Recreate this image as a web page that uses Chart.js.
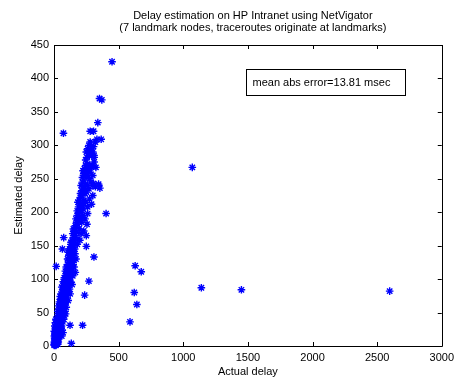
<!DOCTYPE html>
<html>
<head>
<meta charset="utf-8">
<script src="https://cdn.jsdelivr.net/npm/chart.js@4/dist/chart.umd.min.js"></script>
<style>
html,body{margin:0;padding:0;background:#fff;}
canvas{display:block;}
</style>
</head>
<body>
<canvas id="c" width="459" height="377"></canvas>
<script>
// ---- data ----
const titleLines = ["Delay estimation on HP Intranet using NetVigator", "(7 landmark nodes, traceroutes originate at landmarks)"];
const xLabel = "Actual delay";
const yLabel = "Estimated delay";
const annotationText = "mean abs error=13.81 msec";
const xTicks = [0, 500, 1000, 1500, 2000, 2500, 3000];
const yTicks = [0, 50, 100, 150, 200, 250, 300, 350, 400, 450];

// main diagonal band (actual, estimated)
const bandPoints = [
  [2,1],[5,3],[8,2],[3,6],[10,5],[12,8],[15,4],[6,9],[18,2],[20,7],[25,5],[30,3],[22,10],[1,2],[14,1],
  [4,4],[9,11],[16,12],[27,9],[33,6],[7,17],[2,22],[24,16],[36,11],
  [5,12],[10,15],[15,18],[8,20],[20,14],[25,22],[30,18],[35,25],[18,26],[12,28],[40,20],[45,28],[28,12],[50,30],[60,15],[70,20],[3,15],[38,14],
  [14,24],[22,30],[32,28],[48,22],[55,26],[62,24],[42,33],[26,36],[6,30],
  [20,32],[30,35],[40,38],[25,42],[35,45],[45,40],[50,48],[55,35],[60,42],[65,45],[15,40],[70,50],[80,45],[90,48],[10,35],[42,50],[58,30],
  [32,48],[48,44],[75,40],[68,36],[52,54],[38,42],[85,52],[62,50],
  [30,52],[40,55],[50,58],[60,60],[45,62],[55,65],[65,68],[70,72],[75,62],[80,70],[85,75],[90,65],[35,60],[100,72],[110,68],[60,75],[50,70],[95,58],[42,66],[72,55],
  [48,74],[58,68],[68,64],[78,58],[88,70],[64,56],[82,64],[96,78],
  [55,78],[65,80],[75,85],[85,82],[95,88],[70,90],[80,95],[90,92],[100,98],[110,90],[120,85],[130,95],[60,88],[105,80],[115,100],[140,92],[88,100],[125,78],
  [72,96],[92,84],[102,92],[112,82],[124,96],[68,84],[82,88],
  [80,102],[90,105],[100,110],[110,108],[120,115],[95,118],[105,122],[115,125],[125,112],[135,120],[145,105],[155,118],[130,127],[140,125],[100,102],[165,110],[118,104],
  [88,112],[108,116],[128,106],[138,112],[112,128],[148,122],[96,108],
  [105,130],[115,135],[125,132],[135,140],[120,145],[130,148],[140,138],[150,135],[160,145],[145,150],[110,140],[170,130],[155,128],[128,138],
  [118,142],[138,132],[148,144],[132,155],[162,138],
  [130,152],[140,158],[150,162],[160,155],[145,168],[155,172],[165,165],[175,170],[185,160],[170,178],[195,175],[210,168],[230,172],[250,165],[150,175],[180,152],[200,158],
  [165,180],[175,185],[185,182],[195,190],[205,188],[180,195],[190,198],[200,192],[215,185],[225,195],[240,190],[255,182],[170,190],[210,200],[260,198],
  [180,202],[190,208],[200,205],[210,212],[220,210],[195,218],[205,222],[215,225],[230,218],[245,215],[260,208],[275,220],[290,212],[300,225],[225,205],[185,215],
  [205,228],[215,232],[225,238],[235,235],[245,242],[220,245],[230,248],[250,230],[260,240],[270,235],[285,245],[300,240],[320,238],[345,242],[355,236],[240,228],[210,240],[275,250],
  [220,252],[230,258],[240,255],[250,262],[260,258],[235,265],[245,270],[255,272],[270,265],[280,260],[290,268],[300,255],[310,275],[265,252],[225,262],[300,270],
  [245,278],[255,282],[265,288],[275,285],[285,292],[260,295],[270,300],[290,298],[300,290],[310,285],[320,305],[280,305],[250,290]
];

// scattered points away from the band
const outlierPoints = [
  [449,425],[352,370],[370,368],[339,334],[73,318],[280,321],[306,321],[332,309],[365,309],[306,298],
  [293,285],[311,282],[324,267],[275,270],[306,243],[344,240],
  [403,198],[75,162],[65,145],[250,149],[309,133],[17,119],[270,97],[237,76],[221,31],[124,31],[134,4],
  [628,120],[675,111],[621,80],[641,62],[588,36],
  [1070,267],[1140,87],[1450,84],[2597,82]
];

const allPoints = bandPoints.concat(outlierPoints).map(p => ({x: p[0], y: p[1]}));

const FONT = "'Liberation Sans', Arial, Helvetica, sans-serif";

const framePlugin = {
  id: 'frame',
  beforeDatasetsDraw(chart) {
    const {ctx, chartArea: a, scales: {x, y}} = chart;
    ctx.save();
    ctx.strokeStyle = '#000';
    ctx.lineWidth = 1;
    ctx.beginPath();
    ctx.rect(Math.round(a.left) + 0.5, Math.round(a.top) + 0.5, Math.round(a.right - a.left), Math.round(a.bottom - a.top));
    const tl = 4;
    xTicks.forEach(v => {
      const px = Math.round(x.getPixelForValue(v)) + 0.5;
      ctx.moveTo(px, a.bottom); ctx.lineTo(px, a.bottom - tl);
      ctx.moveTo(px, a.top); ctx.lineTo(px, a.top + tl);
    });
    yTicks.forEach(v => {
      const py = Math.round(y.getPixelForValue(v)) + 0.5;
      ctx.moveTo(a.left, py); ctx.lineTo(a.left + tl, py);
      ctx.moveTo(a.right, py); ctx.lineTo(a.right - tl, py);
    });
    ctx.stroke();
    // main title
    ctx.fillStyle = '#000';
    ctx.font = '11px ' + FONT;
    ctx.textAlign = 'center';
    ctx.textBaseline = 'middle';
    const cx = (a.left + a.right) / 2 + 5;
    titleLines.forEach((t, i) => ctx.fillText(t, cx, 16 + i * 11.5));
    ctx.restore();
  },
  afterDatasetsDraw(chart) {
    const {ctx, scales: {x, y}} = chart;
    const l = Math.round(x.getPixelForValue(1488)) + 0.5;
    const r = Math.round(x.getPixelForValue(2717)) + 0.5;
    const t = Math.round(y.getPixelForValue(414.5)) + 0.5;
    const b = Math.round(y.getPixelForValue(374.6)) + 0.5;
    ctx.save();
    ctx.fillStyle = '#fff';
    ctx.fillRect(l, t, r - l, b - t);
    ctx.strokeStyle = '#000';
    ctx.lineWidth = 1;
    ctx.strokeRect(l, t, r - l, b - t);
    ctx.fillStyle = '#000';
    ctx.font = '11px ' + FONT;
    ctx.textAlign = 'left';
    ctx.textBaseline = 'middle';
    ctx.fillText(annotationText, l + 6, (t + b) / 2);
    ctx.restore();
  }
};

new Chart(document.getElementById('c'), {
  type: 'scatter',
  data: {
    datasets: [{
      data: allPoints,
      pointStyle: 'star',
      radius: 3.8,
      borderWidth: 1.4,
      borderColor: 'rgb(0,0,255)',
      backgroundColor: 'rgb(0,0,255)',
      clip: false
    }]
  },
  options: {
    responsive: false,
    animation: false,
    devicePixelRatio: 1,
    layout: {padding: {top: 45, right: 15, bottom: 0, left: 0}},
    plugins: {legend: {display: false}, title: {display: false}, tooltip: {enabled: false}},
    scales: {
      x: {
        type: 'linear', min: 0, max: 3000,
        afterBuildTicks(s) { s.ticks = xTicks.map(v => ({value: v})); },
        afterFit(s) { s.height = 31; },
        grid: {display: false, drawTicks: false},
        border: {display: false},
        ticks: {padding: 5, color: '#000', font: {family: FONT, size: 11}, maxRotation: 0, autoSkip: false,
                callback: v => String(v)},
        title: {display: true, text: xLabel, color: '#000', font: {family: FONT, size: 11, lineHeight: 1}, padding: {top: 0, bottom: 0}}
      },
      y: {
        type: 'linear', min: 0, max: 450,
        afterBuildTicks(s) { s.ticks = yTicks.map(v => ({value: v})); },
        afterFit(s) { s.width = 54; },
        grid: {display: false, drawTicks: false},
        border: {display: false},
        ticks: {padding: 5, color: '#000', font: {family: FONT, size: 11}, autoSkip: false,
                callback: v => String(v)},
        title: {display: true, text: yLabel, color: '#000', font: {family: FONT, size: 11, lineHeight: 1}, padding: {top: 13.5, bottom: 0}}
      }
    }
  },
  plugins: [framePlugin]
});
</script>
</body>
</html>
